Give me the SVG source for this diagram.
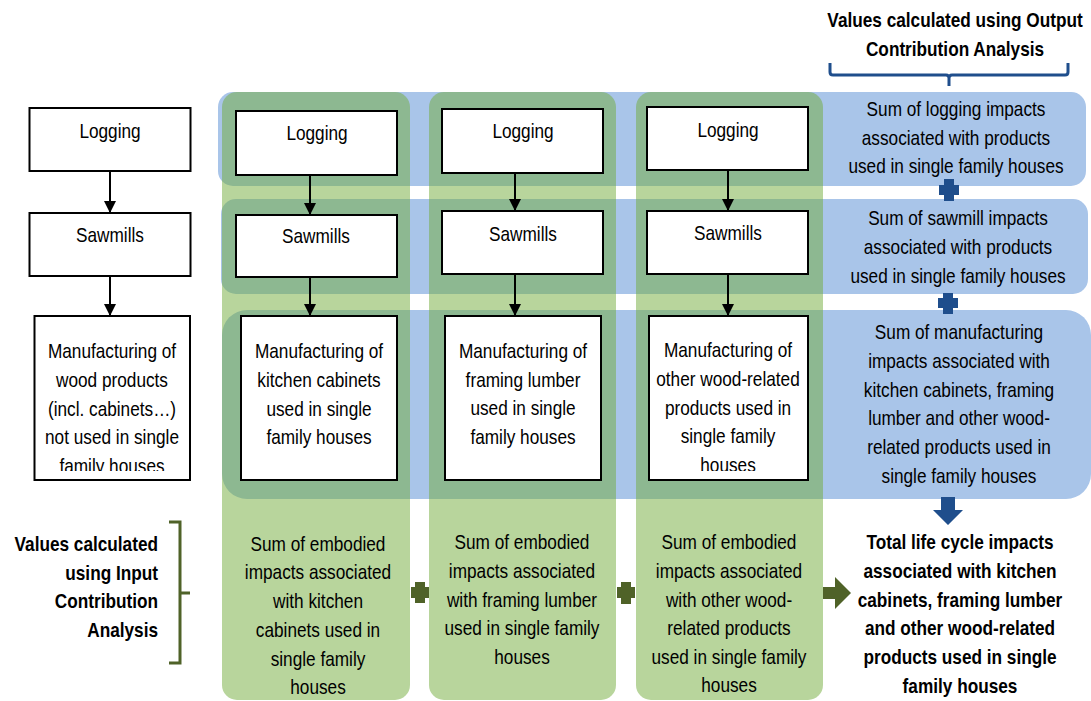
<svg xmlns="http://www.w3.org/2000/svg" width="1091" height="701" viewBox="0 0 1091 701">
<style>
text{font-family:'Liberation Sans',Arial,sans-serif;font-size:21px;fill:#000;text-anchor:middle}
.b{font-weight:bold}
.r{text-anchor:end}
.box{fill:#fff;stroke:#000;stroke-width:2}
.band{fill:#A9C5E9}
.col{fill:#72AB3A;fill-opacity:0.5}
.conn{stroke:#000;stroke-width:2;fill:none}
</style>
<defs>
<marker id="ah" markerUnits="userSpaceOnUse" markerWidth="12" markerHeight="12" viewBox="0 0 12 12" refX="12" refY="6" orient="auto">
<path d="M0,0 L12,6 L0,12 Z" fill="#000"/>
</marker>
<clipPath id="c0"><rect x="34" y="316" width="156" height="155"/></clipPath>
<clipPath id="c3"><rect x="649" y="316" width="159" height="155"/></clipPath>
</defs>

<g id="backgrounds">
<rect class="band" x="218" y="92" width="868" height="94" rx="15"/>
<rect class="band" x="221" y="199" width="867" height="95" rx="15"/>
<rect class="band" x="222" y="310" width="869" height="189" rx="25"/>
<rect class="col" x="222" y="92" width="188" height="608" rx="15"/>
<rect class="col" x="429" y="92" width="187" height="608" rx="15"/>
<rect class="col" x="636" y="92" width="187" height="608" rx="15"/>
</g>

<g id="output-label">
<text class="b" transform="translate(955,27) scale(0.82,1)">Values calculated using Output</text>
<text class="b" transform="translate(955,56) scale(0.82,1)">Contribution Analysis</text>
<path d="M830,63 v9 q0,3 3,3 h113 q3,0 3,3 v8 M949,78 q0,-3 3,-3 h113 q3,0 3,-3 v-9" fill="none" stroke="#1F4E8C" stroke-width="3"/>
</g>

<g id="input-label">
<text class="b r" transform="translate(158,551) scale(0.82,1)">Values calculated</text>
<text class="b r" transform="translate(158,580) scale(0.82,1)">using Input</text>
<text class="b r" transform="translate(158,608) scale(0.82,1)">Contribution</text>
<text class="b r" transform="translate(158,637) scale(0.82,1)">Analysis</text>
<path d="M169,522 h11 v141 h-11 M180,593 h10" fill="none" stroke="#4F6228" stroke-width="3"/>
</g>

<g id="connectors">
<line class="conn" x1="110" y1="171" x2="110" y2="213" marker-end="url(#ah)"/>
<line class="conn" x1="110" y1="276" x2="110" y2="316" marker-end="url(#ah)"/>
<line class="conn" x1="310" y1="175" x2="310" y2="215" marker-end="url(#ah)"/>
<line class="conn" x1="310" y1="277" x2="310" y2="316" marker-end="url(#ah)"/>
<line class="conn" x1="515" y1="173" x2="515" y2="211" marker-end="url(#ah)"/>
<line class="conn" x1="515" y1="274" x2="515" y2="316" marker-end="url(#ah)"/>
<line class="conn" x1="728" y1="170" x2="728" y2="211" marker-end="url(#ah)"/>
<line class="conn" x1="728" y1="274" x2="728" y2="316" marker-end="url(#ah)"/>
</g>

<g id="left-logging"><rect class="box" x="29.5" y="108" width="161" height="63"/><text transform="translate(110,138) scale(0.82,1)">Logging</text></g>
<g id="left-sawmills"><rect class="box" x="29.5" y="213" width="161" height="63"/><text transform="translate(110,242) scale(0.82,1)">Sawmills</text></g>
<g id="left-manufacturing"><rect class="box" x="34.5" y="316" width="155.5" height="164"/>
<g clip-path="url(#c0)">
<text transform="translate(112,358) scale(0.82,1)">Manufacturing of</text>
<text transform="translate(112,387) scale(0.82,1)">wood products</text>
<text transform="translate(112,416) scale(0.82,1)">(incl. cabinets…)</text>
<text transform="translate(112,444) scale(0.82,1)">not used in single</text>
<text transform="translate(112,473) scale(0.82,1)">family houses</text>
</g></g>

<g id="kitchen-logging"><rect class="box" x="236" y="111" width="161" height="64"/><text transform="translate(317,140) scale(0.82,1)">Logging</text></g>
<g id="kitchen-sawmills"><rect class="box" x="236" y="215" width="161" height="62"/><text transform="translate(316,243) scale(0.82,1)">Sawmills</text></g>
<g id="kitchen-manufacturing"><rect class="box" x="241" y="316" width="156" height="164"/>
<text transform="translate(319,358) scale(0.82,1)">Manufacturing of</text>
<text transform="translate(319,387) scale(0.82,1)">kitchen cabinets</text>
<text transform="translate(319,416) scale(0.82,1)">used in single</text>
<text transform="translate(319,444) scale(0.82,1)">family houses</text>
</g>

<g id="framing-logging"><rect class="box" x="442" y="109" width="161" height="64"/><text transform="translate(523,138) scale(0.82,1)">Logging</text></g>
<g id="framing-sawmills"><rect class="box" x="442" y="211" width="161" height="63"/><text transform="translate(523,241) scale(0.82,1)">Sawmills</text></g>
<g id="framing-manufacturing"><rect class="box" x="445" y="316" width="156" height="164"/>
<text transform="translate(523,358) scale(0.82,1)">Manufacturing of</text>
<text transform="translate(523,387) scale(0.82,1)">framing lumber</text>
<text transform="translate(523,415) scale(0.82,1)">used in single</text>
<text transform="translate(523,444) scale(0.82,1)">family houses</text>
</g>

<g id="other-logging"><rect class="box" x="647" y="107" width="161" height="63"/><text transform="translate(728,137) scale(0.82,1)">Logging</text></g>
<g id="other-sawmills"><rect class="box" x="647" y="211" width="161" height="63"/><text transform="translate(728,240) scale(0.82,1)">Sawmills</text></g>
<g id="other-manufacturing"><rect class="box" x="649" y="316" width="159" height="164"/>
<g clip-path="url(#c3)">
<text transform="translate(728,357) scale(0.82,1)">Manufacturing of</text>
<text transform="translate(728,386) scale(0.82,1)">other wood-related</text>
<text transform="translate(728,415) scale(0.82,1)">products used in</text>
<text transform="translate(728,443) scale(0.82,1)">single family</text>
<text transform="translate(728,472) scale(0.82,1)">houses</text>
</g></g>

<g id="sum-logging">
<text transform="translate(956,116) scale(0.82,1)">Sum of logging impacts</text>
<text transform="translate(956,145) scale(0.82,1)">associated with products</text>
<text transform="translate(956,173) scale(0.82,1)">used in single family houses</text>
</g>
<g id="sum-sawmill">
<text transform="translate(958,225) scale(0.82,1)">Sum of sawmill impacts</text>
<text transform="translate(958,254) scale(0.82,1)">associated with products</text>
<text transform="translate(958,283) scale(0.82,1)">used in single family houses</text>
</g>
<g id="sum-manufacturing">
<text transform="translate(959,339) scale(0.82,1)">Sum of manufacturing</text>
<text transform="translate(959,368) scale(0.82,1)">impacts associated with</text>
<text transform="translate(959,397) scale(0.82,1)">kitchen cabinets, framing</text>
<text transform="translate(959,425) scale(0.82,1)">lumber and other wood-</text>
<text transform="translate(959,454) scale(0.82,1)">related products used in</text>
<text transform="translate(959,483) scale(0.82,1)">single family houses</text>
</g>

<g id="plus-signs">
<path d="M944,179 h10 v6 h5 v10 h-5 v6 h-10 v-6 h-5 v-10 h5 z" fill="#1F4E8C"/>
<path d="M943,293 h10 v5 h5 v10 h-5 v6 h-10 v-6 h-5 v-10 h5 z" fill="#1F4E8C"/>
<path d="M415,582 h10 v5 h4 v11 h-4 v5 h-10 v-5 h-4 v-11 h4 z" fill="#4F6228"/>
<path d="M621,582 h10 v5 h4 v11 h-4 v6 h-10 v-6 h-4 v-11 h4 z" fill="#4F6228"/>
<path d="M941,497 h14 v13 h8 l-15,15 l-15,-15 h8 z" fill="#1F4E8C"/>
<path d="M823,587 h12 v-10 l16,16 l-16,16 v-10 h-12 z" fill="#4F6228"/>
</g>

<g id="embodied-kitchen">
<text transform="translate(318,551) scale(0.82,1)">Sum of embodied</text>
<text transform="translate(318,579) scale(0.82,1)">impacts associated</text>
<text transform="translate(318,608) scale(0.82,1)">with kitchen</text>
<text transform="translate(318,637) scale(0.82,1)">cabinets used in</text>
<text transform="translate(318,666) scale(0.82,1)">single family</text>
<text transform="translate(318,694) scale(0.82,1)">houses</text>
</g>
<g id="embodied-framing">
<text transform="translate(522,549) scale(0.82,1)">Sum of embodied</text>
<text transform="translate(522,578) scale(0.82,1)">impacts associated</text>
<text transform="translate(522,607) scale(0.82,1)">with framing lumber</text>
<text transform="translate(522,635) scale(0.82,1)">used in single family</text>
<text transform="translate(522,664) scale(0.82,1)">houses</text>
</g>
<g id="embodied-other">
<text transform="translate(729,549) scale(0.82,1)">Sum of embodied</text>
<text transform="translate(729,578) scale(0.82,1)">impacts associated</text>
<text transform="translate(729,607) scale(0.82,1)">with other wood-</text>
<text transform="translate(729,635) scale(0.82,1)">related products</text>
<text transform="translate(729,664) scale(0.82,1)">used in single family</text>
<text transform="translate(729,692) scale(0.82,1)">houses</text>
</g>

<g id="total">
<text class="b" transform="translate(960,549) scale(0.82,1)">Total life cycle impacts</text>
<text class="b" transform="translate(960,578) scale(0.82,1)">associated with kitchen</text>
<text class="b" transform="translate(960,607) scale(0.82,1)">cabinets, framing lumber</text>
<text class="b" transform="translate(960,635) scale(0.82,1)">and other wood-related</text>
<text class="b" transform="translate(960,664) scale(0.82,1)">products used in single</text>
<text class="b" transform="translate(960,693) scale(0.82,1)">family houses</text>
</g>
</svg>
